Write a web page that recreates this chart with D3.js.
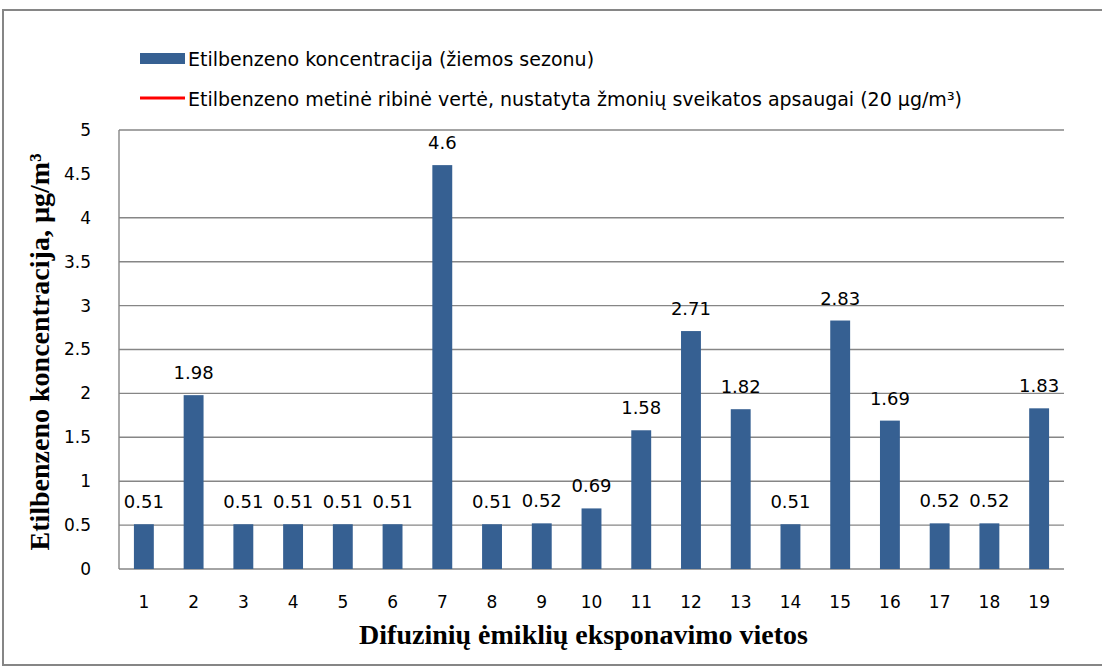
<!DOCTYPE html>
<html>
<head>
<meta charset="utf-8">
<script src="https://cdn.jsdelivr.net/npm/d3@7"></script>
<style>
  body { margin: 0; background: #fff; }
  text { fill: #000; }
</style>
</head>
<body>
<div id="chart"></div>
<script>
// Data
const sites = ["1","2","3","4","5","6","7","8","9","10","11","12","13","14","15","16","17","18","19"];
const concentration = [0.51, 1.98, 0.51, 0.51, 0.51, 0.51, 4.6, 0.51, 0.52, 0.69, 1.58, 2.71, 1.82, 0.51, 2.83, 1.69, 0.52, 0.52, 1.83];
const yTicks = [0, 0.5, 1, 1.5, 2, 2.5, 3, 3.5, 4, 4.5, 5];
const noGrid = [4.5]; // this gridline is not drawn in the original
const legendItems = [
  "Etilbenzeno koncentracija (žiemos sezonu)",
  "Etilbenzeno metinė ribinė vertė, nustatyta žmonių sveikatos apsaugai (20 µg/m³)"
];

const W = 1102, H = 666;
const margins = { top: 130, right: 38, bottom: 97, left: 119 },
      w = W - margins.left - margins.right,
      h = H - margins.top - margins.bottom;

const sansFont = "'DejaVu Sans', sans-serif";
const serifFont = "'Liberation Serif', 'Times New Roman', serif";
const barColor = "#366092";
const gridColor = "#868686";

const svg = d3.select("#chart")
  .append("svg")
  .attr("width", W)
  .attr("height", H);

// outer frame
svg.append("rect")
  .attr("x", 3)
  .attr("y", 10)
  .attr("width", W + 10)
  .attr("height", 655)
  .attr("fill", "none")
  .attr("stroke", gridColor)
  .attr("stroke-width", 2);

const chart = svg.append("g")
  .attr("transform", `translate(${margins.left},${margins.top})`);

const x = d3.scaleBand()
  .domain(sites)
  .range([0, w])
  .paddingInner(0.6)
  .paddingOuter(0.3);

const y = d3.scaleLinear()
  .domain([0, 5])
  .range([h, 0]);

// gridlines
chart.selectAll(".grid")
  .data(yTicks.filter(t => !noGrid.includes(t)))
  .enter()
  .append("line")
    .attr("x1", 0)
    .attr("x2", w)
    .attr("y1", d => y(d))
    .attr("y2", d => y(d))
    .attr("stroke", gridColor)
    .attr("stroke-width", 1.4);

// left axis line
chart.append("line")
  .attr("x1", 0).attr("x2", 0)
  .attr("y1", 0).attr("y2", h)
  .attr("stroke", gridColor)
  .attr("stroke-width", 1.4);

// y axis labels
const yAxis = chart.append("g")
  .attr("transform", "translate(-25,0)")
  .call(d3.axisLeft(y).tickValues(yTicks).tickSize(0).tickFormat(d3.format("")));
yAxis.select(".domain").remove();
yAxis.selectAll("text")
  .attr("font-family", sansFont)
  .attr("font-size", 17)
  .attr("fill", "#000");

// x axis labels
const xAxis = chart.append("g")
  .attr("transform", `translate(0,${h + 24})`)
  .call(d3.axisBottom(x).tickSize(0));
xAxis.select(".domain").remove();
xAxis.selectAll("text")
  .attr("font-family", sansFont)
  .attr("font-size", 17)
  .attr("fill", "#000");

// bars
const bars = sites.map((s, i) => ({ site: s, value: concentration[i] }));

chart.selectAll(".bar")
  .data(bars)
  .enter()
  .append("rect")
    .attr("class", "bar")
    .attr("x", d => x(d.site))
    .attr("y", d => y(d.value))
    .attr("width", x.bandwidth())
    .attr("height", d => h - y(d.value))
    .attr("fill", barColor);

chart.selectAll(".val")
  .data(bars)
  .enter()
  .append("text")
    .attr("x", d => x(d.site) + x.bandwidth() / 2)
    .attr("y", d => y(d.value) - 16)
    .attr("text-anchor", "middle")
    .attr("font-family", sansFont)
    .attr("font-size", 18)
    .text(d => d3.format("")(d.value));

// axis titles
chart.append("text")
  .attr("x", w / 2 - 8)
  .attr("y", h + 75)
  .attr("text-anchor", "middle")
  .attr("font-family", serifFont)
  .attr("font-weight", "bold")
  .attr("font-size", 28)
  .text("Difuzinių ėmiklių eksponavimo vietos");

chart.append("text")
  .attr("transform", "rotate(-90)")
  .attr("x", -222)
  .attr("y", -70)
  .attr("text-anchor", "middle")
  .attr("font-family", serifFont)
  .attr("font-weight", "bold")
  .attr("font-size", 28)
  .text("Etilbenzeno koncentracija, µg/m³");

// legend
const legend = svg.append("g")
  .attr("transform", "translate(140,0)");

legend.append("rect")
  .attr("x", 0)
  .attr("y", 53)
  .attr("width", 45)
  .attr("height", 11)
  .attr("fill", barColor);

legend.append("line")
  .attr("x1", 0).attr("x2", 45)
  .attr("y1", 98).attr("y2", 98)
  .attr("stroke", "#ff0000")
  .attr("stroke-width", 3);

legendItems.forEach((t, i) => {
  legend.append("text")
    .attr("x", 48)
    .attr("y", 66 + i * 40)
    .attr("font-family", sansFont)
    .attr("font-size", 19)
    .text(t);
});
</script>
</body>
</html>
